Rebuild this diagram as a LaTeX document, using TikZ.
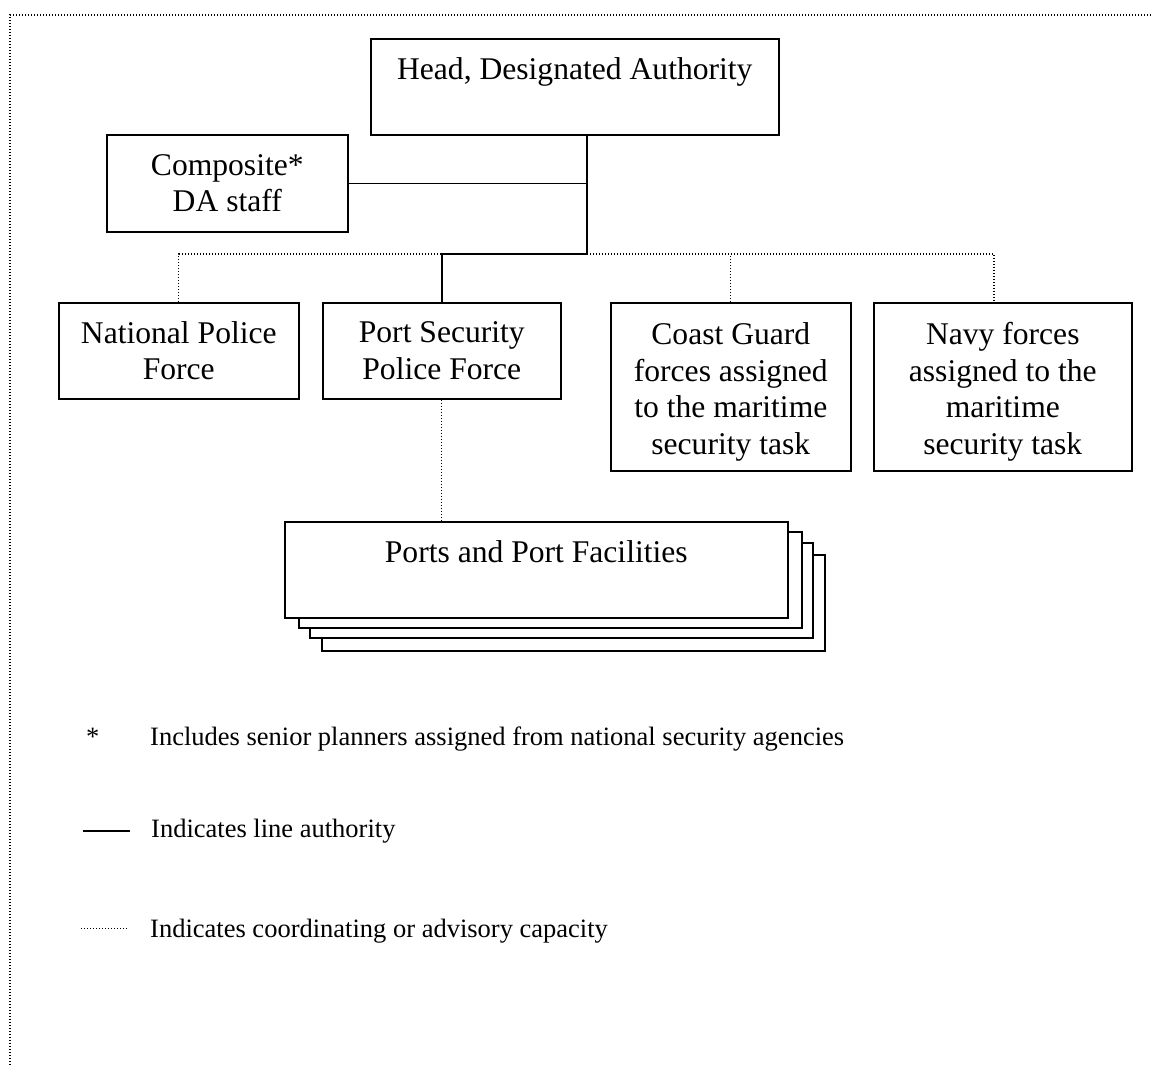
\documentclass[tikz,border=0pt]{standalone}
\usepackage{fontspec}
\setmainfont{Liberation Serif}
\newcommand{\boxfont}{\fontsize{31.6}{36.5}\selectfont}
\newcommand{\legfont}{\fontsize{26.5}{32}\selectfont}
\begin{document}
\begin{tikzpicture}[x=1pt,y=-1pt,
  box/.style={draw, line width=1.6pt, inner sep=0pt, align=center, font=\boxfont, anchor=north west, fill=white},
  boxtext/.style={inner sep=0pt, align=center, font=\boxfont},
  solidline/.style={line width=1.6pt},
  dotline/.style={line width=1.2pt, dash pattern=on 1pt off 2pt},
  legtext/.style={font=\legfont, anchor=base west, inner sep=0pt}]
\useasboundingbox (0,0) rectangle (1152,1065);
\draw[dotline] (10,1065) -- (10,15) -- (1152,15);

\node[box, minimum width=408, minimum height=96] (head) at (370,38) {Head, Designated Authority\\\mbox{}};
\node[box, minimum width=241, minimum height=97] (comp) at (106,134) {Composite*\\DA staff};
\node[box, minimum width=240, minimum height=96] (npf) at (58,302) {National Police\\Force};
\node[box, minimum width=238, minimum height=96] (psp) at (322,302) {Port Security\\Police Force};
\node[box, minimum width=240, minimum height=168] (cg) at (610,302) {};
\node[boxtext, yshift=-5pt] (cgt) at (cg.center) {Coast Guard\\forces assigned\\to the maritime\\security task};
\node[box, minimum width=258, minimum height=168] (navy) at (873,302) {};
\node[boxtext, yshift=-5pt] (navyt) at (navy.center) {Navy forces\\assigned to the\\maritime\\security task};

\draw[solidline, fill=white] (322,555) rectangle (825,651);
\draw[solidline, fill=white] (310,543) rectangle (813,638);
\draw[solidline, fill=white] (299,532) rectangle (802,628);
\node[box, minimum width=503, minimum height=96] (ports) at (284,521) {Ports and Port Facilities\\\mbox{}};

\coordinate (j2) at (587,254);
\coordinate (nv) at (994,254);
\draw[dotline] (npf.north) |- (psp.north |- j2);
\draw[dotline] (j2) -- (nv) -- (nv |- navy.north);
\draw[dotline] (cg.north) -- (cg.north |- j2);
\draw[dotline] (psp.south) -- (psp.south |- ports.north);
\draw[solidline] (head.south -| j2) -- (j2) -| (psp.north);
\draw[solidline] (comp.east) -- (comp.east -| j2);

\node[legtext] (star) at (86,745) {*};
\node[legtext] (l1) at (150,745) {Includes senior planners assigned from national security agencies};
\coordinate (la) at (83,831);
\coordinate (lb) at (130,831);
\draw[line width=2pt] (la) -- (lb);
\node[legtext] (l2) at (151,837) {Indicates line authority};
\coordinate (da) at (81,928);
\coordinate (db) at (127,928);
\draw[line width=0.9pt, dash pattern=on 1pt off 2pt] (da) -- (db);
\node[legtext] (l3) at (150,937) {Indicates coordinating or advisory capacity};
\end{tikzpicture}
\end{document}
